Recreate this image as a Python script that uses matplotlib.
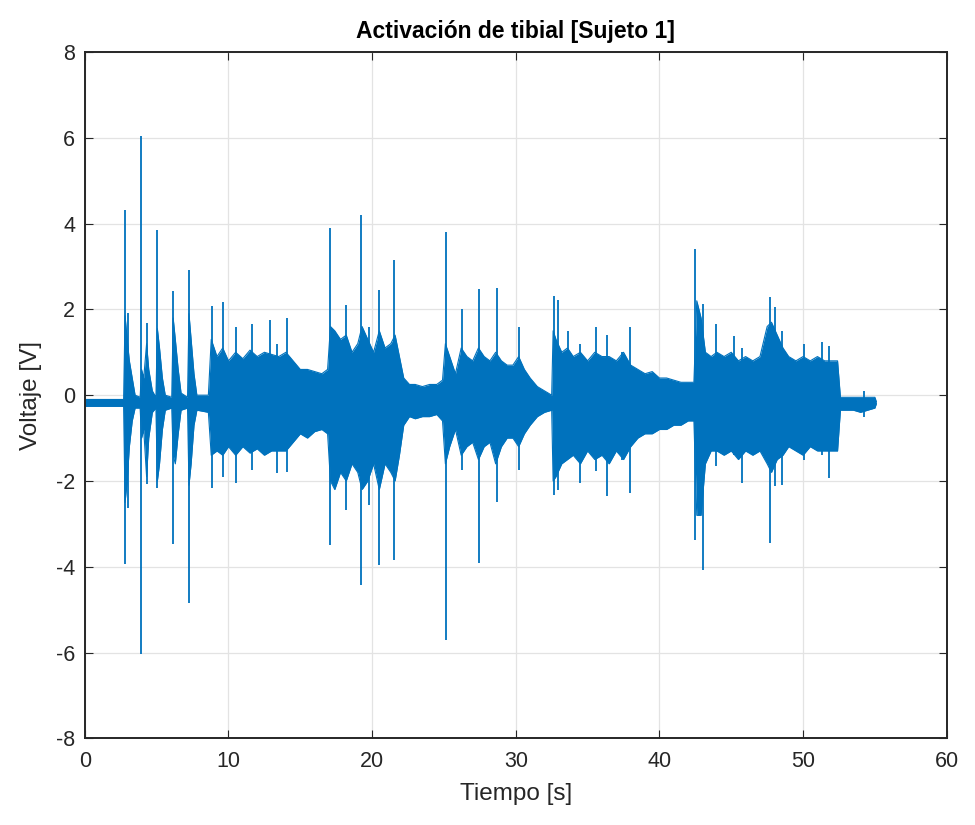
import matplotlib
matplotlib.use("Agg")
import matplotlib.pyplot as plt
import numpy as np

plt.rcParams['font.family'] = ['Liberation Sans', 'DejaVu Sans']
plt.rcParams['axes.unicode_minus'] = False

# envelope of the signal body (time [s], upper, lower [V])
env_t = [0.0, 2.70, 2.80, 2.95, 3.10, 3.30, 3.50, 3.85, 3.95, 4.10,
         4.30, 4.45, 4.70, 4.95, 5.05, 5.20, 5.40, 5.60, 6.05, 6.15,
         6.30, 6.50, 6.70, 7.15, 7.25, 7.40, 7.60, 7.80, 8.60, 8.80,
         9.20, 9.60, 10.0, 10.5, 11.0, 11.5, 12.0, 12.5, 13.0, 13.5,
         14.0, 14.5, 15.0, 15.5, 16.0, 16.5, 16.9, 17.1, 17.4, 17.8,
         18.2, 18.6, 19.0, 19.3, 19.7, 20.1, 20.5, 20.9, 21.3, 21.6,
         21.9, 22.2, 22.6, 23.0, 23.5, 24.0, 24.5, 24.9, 25.1, 25.4,
         25.8, 26.2, 26.6, 27.0, 27.4, 27.8, 28.2, 28.6, 29.0, 29.4,
         29.8, 30.2, 30.6, 31.0, 31.5, 32.0, 32.5, 32.6, 32.8, 33.2,
         33.6, 34.0, 34.5, 35.0, 35.5, 36.0, 36.5, 37.0, 37.5, 38.0,
         38.5, 39.0, 39.5, 40.0, 40.5, 41.0, 41.5, 42.0, 42.4, 42.6,
         42.9, 43.2, 43.6, 44.0, 44.5, 45.0, 45.5, 46.0, 46.5, 47.0,
         47.5, 47.8, 48.2, 48.6, 49.0, 49.5, 50.0, 50.5, 51.0, 51.5,
         52.0, 52.4, 52.6, 53.0, 53.5, 54.0, 54.5, 55.0, 55.1]
env_hi = [-0.10, -0.10, 1.85, 1.30, 0.80, 0.40, 0.00, -0.05, 0.60, 0.40,
          1.20, 0.60, 0.10, -0.05, 1.55, 1.10, 0.40, 0.00, -0.05, 1.80,
          1.30, 0.60, 0.05, -0.05, 1.90, 1.30, 0.50, 0.00, 0.00, 1.30,
          0.90, 1.10, 0.80, 1.00, 0.85, 1.05, 0.90, 1.00, 0.95, 0.90,
          1.00, 0.80, 0.60, 0.60, 0.55, 0.50, 0.60, 1.60, 1.50, 1.30,
          1.40, 1.00, 1.20, 1.60, 1.30, 1.00, 1.50, 1.10, 1.20, 1.40,
          0.90, 0.40, 0.25, 0.25, 0.20, 0.25, 0.25, 0.35, 1.20, 0.90,
          0.50, 1.10, 0.90, 0.80, 1.10, 0.90, 0.80, 1.00, 0.80, 0.70,
          0.70, 0.90, 0.60, 0.40, 0.20, 0.10, 0.00, 1.50, 1.30, 1.00,
          1.10, 0.90, 1.00, 0.80, 1.00, 0.90, 0.90, 0.80, 1.00, 0.70,
          0.60, 0.50, 0.55, 0.40, 0.40, 0.35, 0.30, 0.30, 0.30, 2.20,
          1.80, 1.00, 0.90, 1.00, 0.90, 1.00, 0.80, 0.90, 0.80, 0.90,
          1.60, 1.70, 1.40, 1.10, 0.90, 0.80, 0.90, 0.80, 0.90, 0.80,
          0.80, 0.80, -0.05, -0.05, -0.05, -0.05, -0.05, -0.05, -0.15]
env_lo = [-0.26, -0.26, -2.50, -2.00, -1.20, -0.60, -0.30, -0.30, -1.00, -0.80,
          -1.90, -1.00, -0.40, -0.30, -2.00, -1.60, -0.80, -0.35, -0.30, -1.40,
          -1.60, -0.90, -0.35, -0.30, -2.10, -1.60, -0.70, -0.35, -0.40, -1.40,
          -1.30, -1.40, -1.20, -1.40, -1.20, -1.35, -1.25, -1.40, -1.30, -1.30,
          -1.30, -1.10, -0.90, -1.00, -0.85, -0.80, -0.90, -2.00, -2.20, -1.80,
          -2.00, -1.60, -1.80, -2.20, -2.00, -1.60, -2.20, -1.60, -1.80, -2.00,
          -1.40, -0.70, -0.50, -0.55, -0.50, -0.50, -0.45, -0.60, -1.60, -1.20,
          -0.80, -1.40, -1.20, -1.10, -1.50, -1.20, -1.10, -1.60, -1.20, -1.00,
          -1.00, -1.20, -0.90, -0.70, -0.50, -0.40, -0.35, -2.00, -1.90, -1.60,
          -1.50, -1.40, -1.60, -1.30, -1.50, -1.40, -1.60, -1.30, -1.50, -1.20,
          -1.00, -0.90, -0.90, -0.80, -0.80, -0.70, -0.70, -0.60, -0.60, -2.80,
          -2.80, -1.60, -1.30, -1.30, -1.40, -1.30, -1.50, -1.30, -1.40, -1.30,
          -1.60, -1.80, -1.50, -1.40, -1.20, -1.30, -1.40, -1.20, -1.30, -1.30,
          -1.30, -1.30, -0.35, -0.35, -0.35, -0.40, -0.35, -0.30, -0.20]

# individual spikes (time [s], peak high, peak low [V])
spike_t = [2.79, 3.04, 3.94, 4.35, 5.03, 6.13, 7.25, 8.88, 9.59, 10.5,
           11.67, 12.9, 13.4, 14.1, 17.04, 18.15, 19.26, 19.77, 20.46, 21.5,
           25.13, 26.24, 27.46, 28.66, 30.23, 32.65, 32.95, 33.65, 34.47, 35.58,
           36.33, 37.37, 37.95, 42.49, 43.02, 43.95, 45.16, 45.74, 47.67, 48.07,
           48.53, 50.05, 51.33, 51.8, 54.23]
spike_hi = [4.31, 1.92, 6.05, 1.68, 3.84, 2.42, 2.91, 2.07, 2.18, 1.60,
            1.66, 1.76, 1.20, 1.79, 3.89, 2.10, 4.21, 1.60, 2.45, 3.15,
            3.80, 2.02, 2.47, 2.49, 1.60, 2.31, 2.23, 1.50, 1.19, 1.58,
            1.41, 1.01, 1.58, 3.41, 2.13, 1.66, 1.39, 1.10, 2.28, 2.05,
            1.50, 1.19, 1.23, 1.14, 0.10]
spike_lo = [-3.93, -2.64, -6.04, -2.08, -2.17, -3.46, -4.85, -2.17, -1.90, -2.04,
            -1.74, -1.30, -1.82, -1.78, -3.49, -2.68, -4.42, -2.56, -3.96, -3.84,
            -5.70, -1.74, -3.92, -2.50, -1.74, -2.32, -2.20, -1.40, -2.04, -1.77,
            -2.35, -1.50, -2.28, -3.37, -4.07, -1.65, -1.40, -2.04, -3.45, -2.12,
            -2.10, -1.50, -1.40, -1.93, -0.52]

line_color = '#0072BD'
axis_color = '#262626'

fig = plt.figure(figsize=(9.75, 8.25), dpi=100)
ax = fig.add_axes([0.087, 0.105, 0.884, 0.832])

ax.fill_between(env_t, env_lo, env_hi, color=line_color, linewidth=0)
ax.plot(env_t, env_hi, color=line_color, linewidth=0.8)
ax.plot(env_t, env_lo, color=line_color, linewidth=0.8)
ax.vlines(spike_t, spike_lo, spike_hi, color=line_color, linewidth=1.3)

ax.set_xlim(0, 60)
ax.set_ylim(-8, 8)
ax.set_xticks(np.arange(0, 61, 10))
ax.set_yticks(np.arange(-8, 9, 2))
ax.grid(True, color='#e3e3e3', linewidth=0.9)
ax.set_axisbelow(True)
ax.tick_params(direction='in', length=6, width=0.8, colors=axis_color,
               labelsize=15.5, top=True, right=True)
ax.tick_params(axis='x', pad=9)
ax.tick_params(axis='y', pad=7)
for s in ax.spines.values():
    s.set_color(axis_color)
    s.set_linewidth(1.4)

ax.set_title('Activación de tibial [Sujeto 1]', fontsize=16.5, fontweight='bold',
             color='black', pad=10)
ax.set_xlabel('Tiempo [s]', fontsize=17.5, color=axis_color, labelpad=8)
ax.set_ylabel('Voltaje [V]', fontsize=17.5, color=axis_color, labelpad=10)

fig.savefig('out.png', dpi=100)
